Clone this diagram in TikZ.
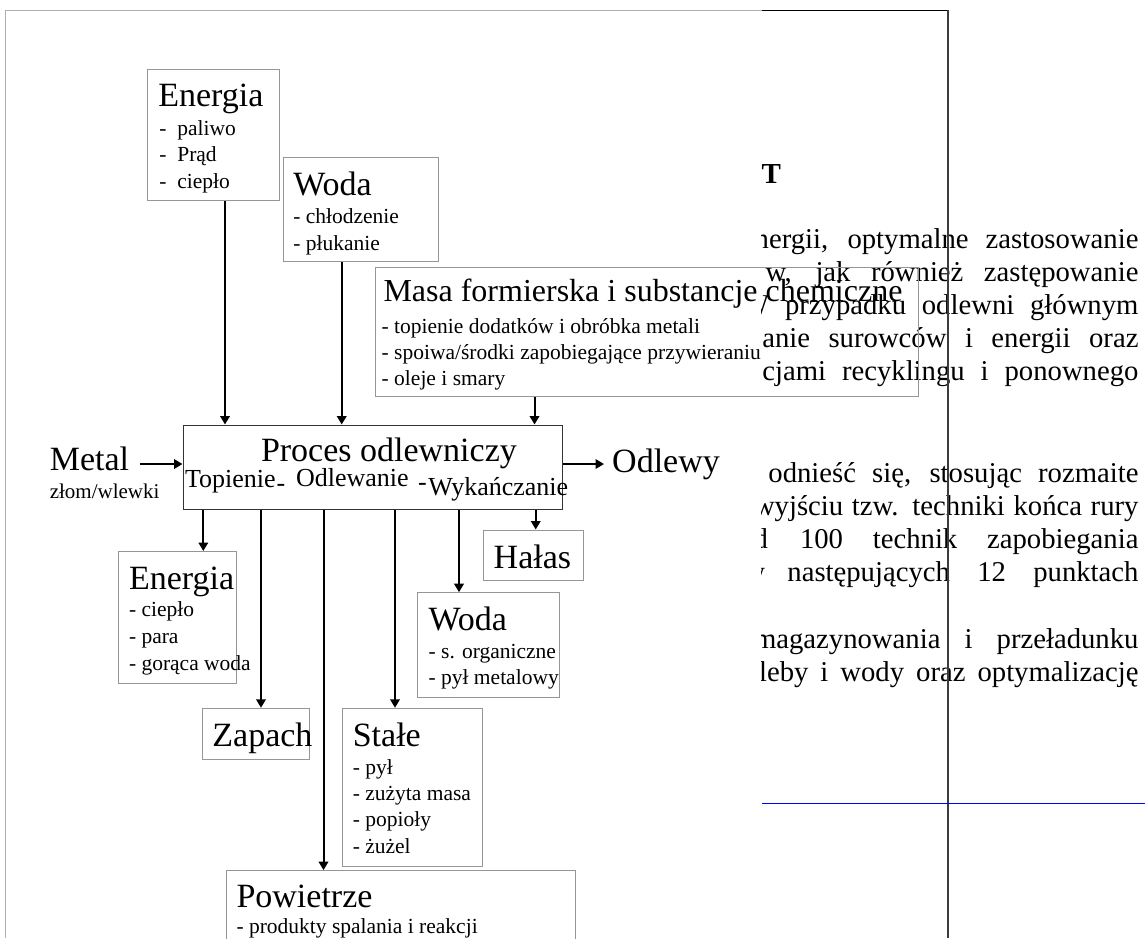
\documentclass[tikz,border=0pt]{standalone}
\usepackage{fontspec}
\setmainfont{Liberation Serif}
\usetikzlibrary{arrows.meta}
\newcommand\fT{\fontsize{34}{40}\selectfont}
\newcommand\fM{\fontsize{32}{38}\selectfont}
\newcommand\fI{\fontsize{21.5}{26}\selectfont}
\newcommand\fZ{\fontsize{21}{25}\selectfont}
\newcommand\fS{\fontsize{26}{30}\selectfont}
\newcommand\fB{\fontsize{28.7}{33}\selectfont}
\newcommand\jline[2]{\makebox[#1][s]{#2}}
\definecolor{boxgray}{RGB}{150,150,150}
\definecolor{framegray}{RGB}{175,175,175}
\definecolor{vline}{RGB}{60,60,60}
\tikzset{
  gbox/.style={draw=boxgray, line width=1pt, inner sep=0pt, anchor=north west},
  pbox/.style={draw=black!80, line width=1.3pt, inner sep=0pt, anchor=north west},
  lbl/.style={inner sep=0pt, outer sep=0pt, anchor=base west},
  lble/.style={inner sep=0pt, outer sep=0pt, anchor=base east},
  arr/.style={line width=2pt, -{Triangle[length=8.5pt,width=9.5pt]}},
}
\begin{document}
\begin{tikzpicture}[x=1pt,y=-1pt]
\useasboundingbox (0,0) rectangle (1145,938);
\clip (0,0) rectangle (1145,938);
\fill[white] (0,0) rectangle (1145,938);

% ---------- body text on the right (clipped by the picture frame)
\begin{scope}
\clip (761.5,0) rectangle (1145,938);
\node[lbl] (hT) at (761.7,183.3) {\fontsize{29}{34}\selectfont\bfseries T};
\node[lbl] (r1) at (754.7,248.3) {\fB\jline{383.8pt}{nergii, optymalne zastosowanie}};
\node[lbl] (r2) at (765.7,281.5) {\fB\jline{372.8pt}{w, jak również zastępowanie}};
\node[lble] (r3f) at (769.3,314.6) {\fB W};
\node[lbl] (r3) at (785,314.6) {\fB\jline{353.5pt}{przypadku odlewni głównym}};
\node[lbl] (r4) at (762.3,347.7) {\fB\jline{376.2pt}{anie surowców i energii oraz}};
\node[lbl] (r5) at (762.3,380.8) {\fB\jline{376.2pt}{cjami recyklingu i ponownego}};
\node[lbl] (r6) at (768.4,482.4) {\fB\jline{370.1pt}{odnieść się, stosując rozmaite}};
\node[lbl] (r7) at (754,515.4) {\fB\jline{384.5pt}{wyjściu tzw. techniki końca rury}};
\node[lble] (r8f) at (768,548.4) {\fB d};
\node[lbl] (r8) at (800,548.4) {\fB\jline{338.5pt}{100 technik zapobiegania}};
\node[lble] (r9f) at (765,581.4) {\fB w};
\node[lbl] (r9) at (787.4,581.4) {\fB\jline{351.1pt}{następujących 12 punktach}};
\node[lbl] (r10) at (754,648.8) {\fB\jline{384.5pt}{magazynowania i przeładunku}};
\node[lble] (r11f) at (767,681.8) {\fB l};
\node[lbl] (r11) at (767,681.8) {\fB\jline{371.5pt}{eby i wody oraz optymalizację}};
\end{scope}

% ---------- frame lines
\draw[framegray, line width=1pt] (5.7,938) -- (5.7,10) -- (761.5,10);
\draw[black, line width=1pt] (761.5,10.3) -- (948,10.3);
\draw[vline, line width=1.5pt] (948,10.3) -- (948,938);
\draw[blue, line width=0.9pt] (761.5,803.2) -- (1145,803.2);

% ---------- boxes
\node[gbox, minimum width=132.4pt, minimum height=131.3pt] (etop) at (147,68.7) {};
\node[gbox, minimum width=154.4pt, minimum height=103.7pt] (wtop) at (283.3,157.3) {};
\node[gbox, minimum width=543.3pt, minimum height=129.5pt] (masa) at (375,266.5) {};
\node[pbox, minimum width=379.3pt, minimum height=84.5pt] (proc) at (182.5,424.5) {};
\node[gbox, minimum width=118.2pt, minimum height=132.1pt] (ebot) at (117.5,551) {};
\node[gbox, minimum width=107.1pt, minimum height=51.5pt] (zap) at (201.7,707.8) {};
\node[gbox, minimum width=140.4pt, minimum height=158.2pt] (stale) at (341.8,707.8) {};
\node[gbox, minimum width=141.6pt, minimum height=105pt] (wbot) at (417.1,592.2) {};
\node[gbox, minimum width=99.5pt, minimum height=50.8pt] (halas) at (483,529.5) {};
\node[gbox, minimum width=349pt, minimum height=100pt] (pow) at (225.8,870.1) {};

% ---------- texts in boxes
\node[lbl] (etopT) at (158.3,106.7) {\fT Energia};
\node[lbl] (etop1) at (159.3,135) {\fI\makebox[18pt][l]{-}paliwo};
\node[lbl] (etop2) at (159.3,161.7) {\fI\makebox[18pt][l]{-}Prąd};
\node[lbl] (etop3) at (159.3,188.3) {\fI\makebox[18pt][l]{-}ciepło};

\node[lbl] (wtopT) at (293.3,195) {\fT Woda};
\node[lbl] (wtop1) at (293.3,223.3) {\fI - chłodzenie};
\node[lbl] (wtop2) at (293.3,250) {\fI - płukanie};

\node[lbl] (masaT) at (383.5,301.7) {\fM Masa formierska i substancje chemiczne};
\node[lbl] (masa1) at (381.7,333) {\fI - topienie dodatków i obróbka metali};
\node[lbl] (masa2) at (381.7,359) {\fI - spoiwa/środki zapobiegające przywieraniu};
\node[lbl] (masa3) at (381.7,385) {\fI - oleje i smary};

\node[lbl] (procT) at (261,461.7) {\fT Proces odlewniczy};
\node[lbl] (proc1) at (185,487.7) {\fS Topienie};
\node[lbl] (proch1) at (276.5,491) {\fS -};
\node[lbl] (proc2) at (296,486) {\fS Odlewanie};
\node[lbl] (proch2) at (418,490) {\fS -};
\node[lbl] (proc3) at (428.3,495) {\fS Wykańczanie};

\node[lbl] (metal) at (49.8,470.3) {\fT Metal};
\node[lbl] (metal2) at (49.8,498) {\fZ złom/wlewki};
\node[lbl] (odl) at (612.2,472) {\fT Odlewy};

\node[lbl] (ebotT) at (129,589.8) {\fT Energia};
\node[lbl] (ebot1) at (129,616.5) {\fI - ciepło};
\node[lbl] (ebot2) at (129,643.5) {\fI - para};
\node[lbl] (ebot3) at (129,670.5) {\fI - gorąca woda};

\node[lbl] (zapT) at (212.4,746.6) {\fT Zapach};

\node[lbl] (staleT) at (352.8,746) {\fT Stałe};
\node[lbl] (stale1) at (352.8,774) {\fI - pył};
\node[lbl] (stale2) at (352.8,800.4) {\fI - zużyta masa};
\node[lbl] (stale3) at (352.8,826.8) {\fI - popioły};
\node[lbl] (stale4) at (352.8,853.2) {\fI - żużel};

\node[lbl] (wbotT) at (428.6,630) {\fT Woda};
\node[lbl] (wbot1) at (428.6,658) {\fI - s. organiczne};
\node[lbl] (wbot2) at (428.6,684.8) {\fI - pył metalowy};

\node[lbl] (halasT) at (493.7,568.2) {\fT Hałas};

\node[lbl] (powT) at (236.5,907.2) {\fT Powietrze};
\node[lbl] (pow1) at (236.5,933.6) {\fI - produkty spalania i reakcji};

% ---------- connector x positions
\coordinate (xa) at (225,0);
\coordinate (xb) at (341.7,0);
\coordinate (xc) at (534.5,0);
\coordinate (xd) at (203.3,0);
\coordinate (xe) at (261,0);
\coordinate (xf) at (323.5,0);
\coordinate (xg) at (395,0);
\coordinate (xh) at (459,0);
\coordinate (xi) at (535.7,0);
\coordinate (mstart) at (139.7,464);
\coordinate (oend) at (604,464);

% ---------- connectors
\draw[arr] (etop.south -| xa) -- (proc.north -| xa);
\draw[arr] (wtop.south -| xb) -- (proc.north -| xb);
\draw[arr] (masa.south -| xc) -- (proc.north -| xc);
\draw[arr] (mstart) -- (mstart -| proc.west);
\draw[arr] (proc.east |- oend) -- (oend);
\draw[arr] (proc.south -| xd) -- (ebot.north -| xd);
\draw[arr] (proc.south -| xe) -- (zap.north -| xe);
\draw[arr] (proc.south -| xf) -- (pow.north -| xf);
\draw[arr] (proc.south -| xg) -- (stale.north -| xg);
\draw[arr] (proc.south -| xh) -- (wbot.north -| xh);
\draw[arr] (proc.south -| xi) -- (halas.north -| xi);
\end{tikzpicture}
\end{document}
